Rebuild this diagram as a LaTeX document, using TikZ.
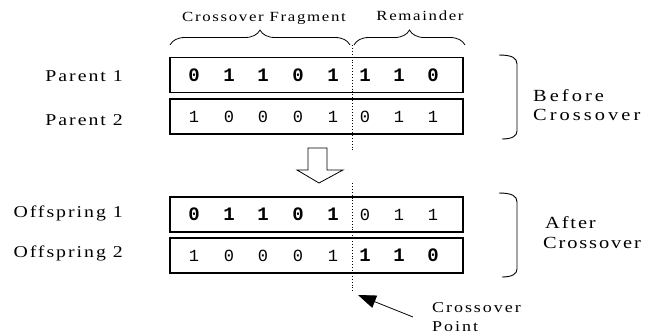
\documentclass[tikz,border=0pt]{standalone}
\usepackage{fontspec}
\setmainfont{Liberation Serif}
\newfontfamily\lblfont[FakeStretch=1.2]{Liberation Serif}
\newfontfamily\bitfont{Liberation Mono}
\usetikzlibrary{decorations.pathreplacing,arrows.meta}
\newcommand\spaced[2]{\lblfont\fontsize{#1}{#1}\selectfont\addfontfeatures{LetterSpace=#2}}
\begin{document}
\begin{tikzpicture}[x=1pt,y=-1pt,
  chrom/.style={draw, line width=1.1pt, minimum width=293pt, minimum height=35pt, inner sep=0pt},
  hi/.style={font=\bitfont\bfseries\fontsize{19}{19}\selectfont, inner sep=0pt},
  lo/.style={font=\bitfont\fontsize{17}{17}\selectfont, inner sep=0pt},
  lbl/.style={font=\spaced{16.5}{12}, inner sep=0pt, anchor=base east},
  toplbl/.style={font=\spaced{14}{12}, inner sep=0pt, anchor=base},
  sidelbl/.style={font=\spaced{17}{18}, inner sep=0pt, anchor=base west},
  sidelbltight/.style={font=\spaced{17}{11}, inner sep=0pt, anchor=base west},
  ptlbl/.style={font=\spaced{15}{13}, inner sep=0pt, anchor=base west},
  cut/.style={dotted, line width=0.9pt},
  curly/.style={decorate, decoration={brace, amplitude=15pt}, line width=0.8pt},
  bracket/.style={line width=0.9pt},
  pointer/.style={line width=0.8pt, -{Triangle[length=18pt,width=13pt]}}]
\useasboundingbox (0,0) rectangle (646,333);

% the four chromosomes
\node[chrom] (p1) at (316.5,75) {};
\node[chrom] (p2) at (316.5,116.5) {};
\node[chrom] (o1) at (316.5,214.5) {};
\node[chrom] (o2) at (316.5,255.5) {};

% genes: bold = first parent, plain = second parent
\foreach \x/\b [count=\i] in {194/0,229/1,263/1,298/0,333/1,365/1,399/1,433/0}
  \node[hi] (p1d\i) at (\x,0 |- p1.center) {\b};
\foreach \x/\b [count=\i] in {194/1,229/0,263/0,298/0,333/1,365/0,399/1,433/1}
  \node[lo] (p2d\i) at (\x,0 |- p2.center) {\b};
\foreach \x/\b [count=\i] in {194/0,229/1,263/1,298/0,333/1}
  \node[hi] (o1d\i) at (\x,0 |- o1.center) {\b};
\foreach \x/\b [count=\i from 6] in {365/0,399/1,433/1}
  \node[lo] (o1d\i) at (\x,0 |- o1.center) {\b};
\foreach \x/\b [count=\i] in {194/1,229/0,263/0,298/0,333/1}
  \node[lo] (o2d\i) at (\x,0 |- o2.center) {\b};
\foreach \x/\b [count=\i from 6] in {365/1,399/1,433/0}
  \node[hi] (o2d\i) at (\x,0 |- o2.center) {\b};

% row labels
\node[lbl] (lp1) at (123,81) {Parent 1};
\node[lbl] (lp2) at (123,125) {Parent 2};
\node[lbl] (lo1) at (123,217) {Offspring 1};
\node[lbl] (lo2) at (123,257) {Offspring 2};

% fragment braces
\coordinate (fragL) at (170,45);
\coordinate (fragR) at (350,45);
\coordinate (remL) at (354,45);
\coordinate (remR) at (465,45);
\draw[curly] (fragL) -- (fragR);
\draw[curly] (remL) -- (remR);
\node[toplbl] (tfrag) at (264,21) {Crossover Fragment};
\node[toplbl] (trem) at (420,20) {Remainder};

% crossover point
\coordinate (cutA) at (352,45);
\coordinate (cutB) at (352,152);
\coordinate (cutC) at (352,183);
\coordinate (cutD) at (352,292);
\draw[cut] (cutA) -- (cutB);
\draw[cut] (cutC) -- (cutD);

% hollow down arrow
\draw[line width=0.8pt] (308,148) -- (327,148) -- (327,170) -- (343,170) -- (319,183)
  -- (297,170) -- (308,170) -- cycle;

% side brackets
\draw[bracket] (499,55) .. controls (512,55) and (517,58) .. (517,64) -- (517,131)
  .. controls (517,136) and (512,139) .. (502,139);
\draw[bracket] (499,193) .. controls (512,193) and (517,196) .. (517,202) -- (517,269)
  .. controls (517,274) and (512,277) .. (502,277);
\node[sidelbl] (tb1) at (533,101) {Before};
\node[sidelbl] (tb2) at (533,120) {Crossover};
\node[sidelbltight] (ta1) at (545,228) {After};
\node[sidelbltight] (ta2) at (543,248) {Crossover};

% crossover point label and pointer
\node[ptlbl] (tcp1) at (432,312) {Crossover};
\node[ptlbl] (tcp2) at (432,331) {Point};
\coordinate (cpTail) at (413,317);
\coordinate (cpTip) at (358,295);
\draw[pointer] (cpTail) -- (cpTip);
\end{tikzpicture}
\end{document}
